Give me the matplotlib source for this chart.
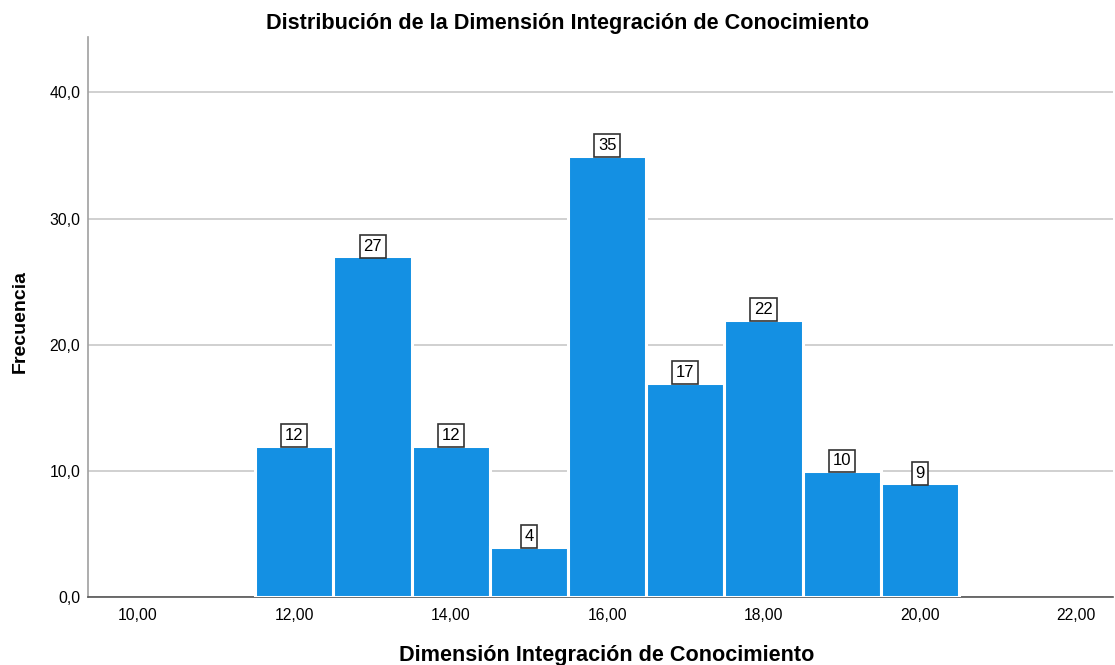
import matplotlib
matplotlib.use("Agg")
import matplotlib.pyplot as plt

plt.rcParams['font.family'] = ['Liberation Sans', 'DejaVu Sans']

values = [12, 13, 14, 15, 16, 17, 18, 19, 20]
counts = [12, 27, 12, 4, 35, 17, 22, 10, 9]
xticks = [10, 12, 14, 16, 18, 20, 22]
xtick_labels = ["10,00", "12,00", "14,00", "16,00", "18,00", "20,00", "22,00"]
yticks = [0, 10, 20, 30, 40]
ytick_labels = ["0,0", "10,0", "20,0", "30,0", "40,0"]

title = "Distribución de la Dimensión Integración de Conocimiento"
xlabel = "Dimensión Integración de Conocimiento"
ylabel = "Frecuencia"

fig = plt.figure(figsize=(11.15, 6.65), dpi=100)
ax = fig.add_axes([88/1115, 1-597/665, (1113-88)/1115, (597-37)/665])

ax.bar(values, counts, width=1.0, color='#1490E3', edgecolor='white', linewidth=2.2, zorder=3)

lab_fs = 12
lab_pad = 0.22
for v, c in zip(values, counts):
    ax.annotate(str(c), xy=(v, c), xytext=(0, lab_pad * lab_fs - 0.8), textcoords='offset points',
                ha='center', va='bottom', fontsize=lab_fs, zorder=5,
                bbox=dict(boxstyle='square,pad=%g' % lab_pad, fc='white', ec='#333333', lw=1.2))

ax.set_xlim(9.36, 22.47)
ax.set_ylim(0, 44.4)
ax.set_xticks(xticks)
ax.set_xticklabels(xtick_labels, fontsize=11.3)
ax.set_yticks(yticks)
ax.set_yticklabels(ytick_labels, fontsize=11.3)
ax.tick_params(axis='x', length=0, pad=8)
ax.tick_params(axis='y', length=0, pad=5.5)
ax.yaxis.grid(True, color='#C8C8C8', linewidth=1.2, zorder=0)
ax.set_axisbelow(True)

for s in ['top', 'right']:
    ax.spines[s].set_visible(False)
ax.spines['left'].set_color('#A0A0A0')
ax.spines['left'].set_linewidth(1.2)
ax.spines['bottom'].set_color('#555555')
ax.spines['bottom'].set_linewidth(1.2)

fig.text(568/1115, 1-23.5/665, title, ha='center', va='center', fontsize=15.6, fontweight='bold')
fig.text(607/1115, 1-655/665, xlabel, ha='center', va='center', fontsize=15.6, fontweight='bold')
fig.text(20/1115, 1-321/665, ylabel, ha='center', va='center', fontsize=14, fontweight='bold', rotation=90)

fig.savefig('out.png', dpi=100)
